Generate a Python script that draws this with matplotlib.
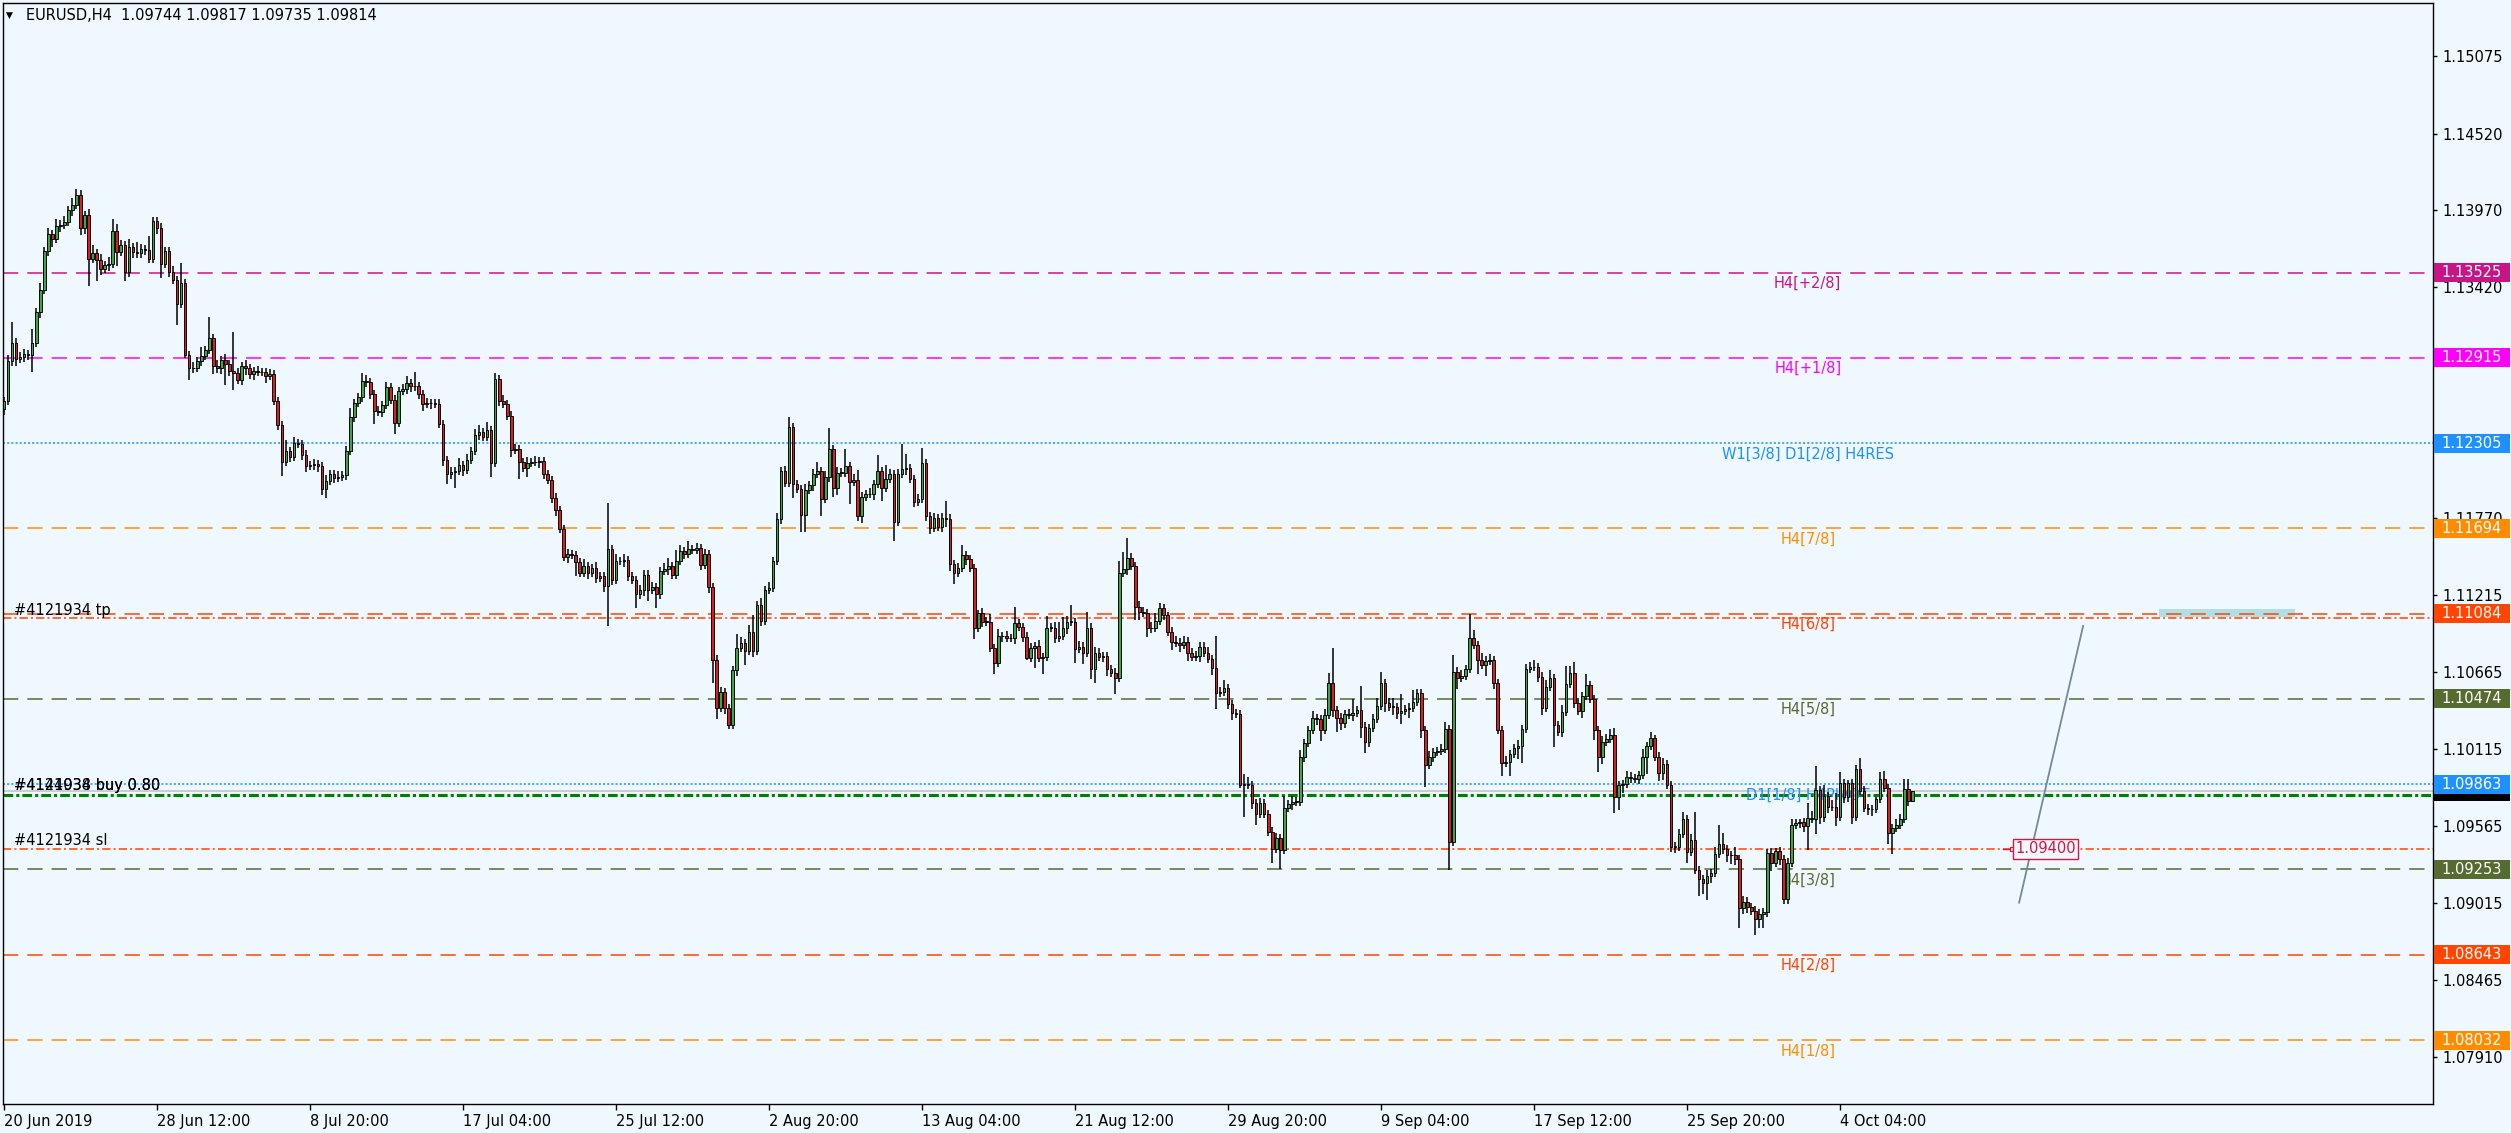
import numpy as np
import matplotlib.pyplot as plt
import matplotlib.transforms as mtransforms
from matplotlib.patches import Rectangle

plt.rcParams['font.family'] = ['DejaVu Sans']
plt.rcParams['lines.scale_dashes'] = False

# EURUSD H4 bars (open of each bar = previous close)
first_open = 1.12547
closes = [
    1.12607, 1.12894, 1.13020, 1.12909, 1.12924, 1.12939, 1.12933, 1.13020, 1.13240, 1.13400,
    1.13677, 1.13803, 1.13767, 1.13857, 1.13869, 1.13888, 1.13972, 1.14008, 1.14083, 1.13842,
    1.13939, 1.13622, 1.13662, 1.13616, 1.13550, 1.13580, 1.13586, 1.13821, 1.13671, 1.13722,
    1.13526, 1.13707, 1.13671, 1.13662, 1.13692, 1.13690, 1.13622, 1.13894, 1.13842, 1.13586,
    1.13677, 1.13532, 1.13472, 1.13300, 1.13451, 1.12933, 1.12839, 1.12845, 1.12894, 1.12930,
    1.12969, 1.13059, 1.12857, 1.12839, 1.12900, 1.12869, 1.12818, 1.12803, 1.12758, 1.12857,
    1.12839, 1.12797, 1.12818, 1.12812, 1.12815, 1.12788, 1.12797, 1.12607, 1.12436, 1.12171,
    1.12246, 1.12207, 1.12306, 1.12300, 1.12222, 1.12141, 1.12145, 1.12153, 1.12141, 1.11975,
    1.12035, 1.12080, 1.12056, 1.12065, 1.12074, 1.12246, 1.12493, 1.12592, 1.12632, 1.12749,
    1.12743, 1.12653, 1.12532, 1.12528, 1.12577, 1.12704, 1.12616, 1.12448, 1.12677, 1.12689,
    1.12737, 1.12713, 1.12710, 1.12653, 1.12586, 1.12590, 1.12592, 1.12588, 1.12442, 1.12183,
    1.12080, 1.12095, 1.12104, 1.12147, 1.12111, 1.12186, 1.12246, 1.12366, 1.12382, 1.12351,
    1.12397, 1.12165, 1.12764, 1.12607, 1.12586, 1.12502, 1.12255, 1.12261, 1.12171, 1.12125,
    1.12165, 1.12171, 1.12168, 1.12177, 1.12080, 1.12041, 1.11915, 1.11824, 1.11689, 1.11493,
    1.11508, 1.11505, 1.11454, 1.11373, 1.11424, 1.11373, 1.11412, 1.11342, 1.11351, 1.11282,
    1.11544, 1.11327, 1.11463, 1.11460, 1.11469, 1.11351, 1.11327, 1.11222, 1.11252, 1.11363,
    1.11252, 1.11273, 1.11222, 1.11388, 1.11403, 1.11424, 1.11363, 1.11463, 1.11532, 1.11514,
    1.11544, 1.11538, 1.11553, 1.11433, 1.11508, 1.11273, 1.10755, 1.10409, 1.10520, 1.10409,
    1.10288, 1.10680, 1.10839, 1.10875, 1.10815, 1.10951, 1.10815, 1.11147, 1.11032, 1.11252,
    1.11267, 1.11463, 1.11764, 1.12104, 1.12020, 1.12418, 1.12014, 1.11975, 1.11790, 1.11970,
    1.12005, 1.12082, 1.12106, 1.11903, 1.12065, 1.12261, 1.11982, 1.12094, 1.12092, 1.12141,
    1.12029, 1.12041, 1.11784, 1.11922, 1.11941, 1.11939, 1.12010, 1.12106, 1.11982, 1.12046,
    1.12082, 1.11743, 1.12082, 1.12118, 1.12125, 1.12046, 1.11886, 1.11903, 1.12161, 1.11784,
    1.11695, 1.11767, 1.11707, 1.11767, 1.11765, 1.11438, 1.11373, 1.11409, 1.11504, 1.11473,
    1.11409, 1.10984, 1.11087, 1.11027, 1.11025, 1.10836, 1.10729, 1.10925, 1.10923, 1.10908,
    1.10910, 1.11015, 1.10987, 1.10920, 1.10770, 1.10836, 1.10853, 1.10770, 1.10772, 1.10984,
    1.10982, 1.10913, 1.10925, 1.10979, 1.11027, 1.11025, 1.10829, 1.10848, 1.10805, 1.10984,
    1.10686, 1.10805, 1.10777, 1.10781, 1.10686, 1.10662, 1.10626, 1.11373, 1.11402, 1.11485,
    1.11426, 1.11135, 1.11099, 1.11087, 1.10979, 1.10981, 1.11032, 1.11123, 1.11075, 1.10956,
    1.10884, 1.10877, 1.10860, 1.10884, 1.10805, 1.10777, 1.10779, 1.10848, 1.10805, 1.10758,
    1.10693, 1.10519, 1.10526, 1.10550, 1.10438, 1.10371, 1.10366, 1.09858, 1.09865, 1.09858,
    1.09727, 1.09648, 1.09727, 1.09648, 1.09524, 1.09398, 1.09476, 1.09393, 1.09691, 1.09722,
    1.09739, 1.09737, 1.10061, 1.10156, 1.10252, 1.10335, 1.10328, 1.10252, 1.10359, 1.10586,
    1.10395, 1.10335, 1.10299, 1.10364, 1.10359, 1.10376, 1.10395, 1.10276, 1.10168, 1.10264,
    1.10328, 1.10423, 1.10586, 1.10447, 1.10419, 1.10417, 1.10371, 1.10388, 1.10400, 1.10407,
    1.10455, 1.10514, 1.10252, 1.10001, 1.10061, 1.10092, 1.10101, 1.10113, 1.10257, 1.09452,
    1.10669, 1.10626, 1.10638, 1.10686, 1.10908, 1.10860, 1.10753, 1.10717, 1.10748, 1.10753,
    1.10586, 1.10252, 1.10013, 1.10025, 1.10080, 1.10121, 1.10137, 1.10257, 1.10686, 1.10700,
    1.10702, 1.10634, 1.10407, 1.10562, 1.10622, 1.10288, 1.10240, 1.10383, 1.10581, 1.10657,
    1.10447, 1.10390, 1.10495, 1.10574, 1.10471, 1.10252, 1.10061, 1.10168, 1.10190, 1.10216,
    1.09775, 1.09858, 1.09865, 1.09917, 1.09905, 1.09903, 1.09929, 1.10056, 1.10137, 1.10197,
    1.10061, 1.09946, 1.10008, 1.09858, 1.09416, 1.09414, 1.09505, 1.09612, 1.09381, 1.09464,
    1.09249, 1.09183, 1.09154, 1.09206, 1.09226, 1.09364, 1.09433, 1.09397, 1.09357, 1.09355,
    1.09326, 1.08975, 1.09023, 1.08982, 1.08958, 1.08896, 1.08932, 1.08946, 1.09369, 1.09302,
    1.09385, 1.09326, 1.09039, 1.09297, 1.09572, 1.09583, 1.09591, 1.09564, 1.09619, 1.09617,
    1.09822, 1.09626, 1.09779, 1.09698, 1.09703, 1.09631, 1.09870, 1.09769, 1.09870, 1.09631,
    1.09970, 1.09817, 1.09691, 1.09684, 1.09686, 1.09755, 1.09899, 1.09834, 1.09517, 1.09548,
    1.09572, 1.09612, 1.09827, 1.09744, 1.09814,
]
# wick length beyond the body, in pips
upper_wick_pips = [
    3, 4, 15, 4, 3, 4, 3, 10, 3, 5, 3, 4, 3, 5, 3, 4, 3, 5, 4, 3, 3, 4, 6, 3, 4,
    3, 5, 9, 5, 4, 3, 6, 3, 7, 4, 3, 10, 3, 3, 4, 3, 3, 4, 3, 14, 3, 3, 4, 3, 6,
    3, 15, 3, 4, 3, 4, 3, 28, 4, 3, 4, 3, 3, 4, 3, 3, 4, 3, 3, 3, 8, 3, 4, 3, 3,
    3, 3, 4, 3, 3, 4, 3, 3, 4, 3, 4, 6, 3, 3, 6, 4, 3, 3, 4, 3, 4, 3, 3, 3, 4,
    5, 3, 10, 3, 3, 4, 3, 3, 3, 3, 3, 4, 3, 5, 3, 4, 3, 4, 5, 3, 6, 3, 4, 3, 4,
    3, 3, 4, 3, 3, 4, 3, 4, 3, 3, 3, 3, 3, 3, 3, 4, 3, 3, 3, 5, 3, 3, 4, 3, 3,
    33, 3, 5, 3, 4, 3, 3, 3, 4, 3, 3, 4, 3, 3, 4, 6, 3, 8, 4, 3, 6, 3, 4, 3, 4,
    3, 3, 3, 4, 3, 3, 3, 10, 4, 3, 5, 12, 3, 5, 3, 4, 3, 4, 3, 4, 7, 3, 3, 3, 4,
    3, 4, 6, 3, 4, 15, 3, 4, 3, 12, 3, 4, 7, 3, 3, 4, 3, 11, 3, 10, 4, 3, 4, 18, 10,
    3, 3, 4, 11, 3, 3, 4, 3, 4, 12, 3, 3, 4, 7, 3, 3, 3, 2, 4, 3, 6, 3, 5, 3, 4,
    3, 12, 3, 3, 3, 4, 3, 4, 3, 8, 3, 4, 10, 8, 4, 12, 3, 4, 3, 11, 3, 4, 3, 3, 3,
    3, 3, 9, 12, 14, 3, 3, 4, 3, 3, 4, 6, 4, 3, 2, 3, 4, 3, 4, 3, 3, 4, 3, 3, 4,
    3, 23, 3, 6, 3, 3, 3, 3, 7, 5, 3, 3, 4, 3, 3, 3, 4, 3, 9, 3, 4, 3, 5, 3, 3,
    5, 3, 3, 4, 7, 25, 3, 4, 3, 4, 10, 3, 17, 3, 3, 4, 6, 8, 3, 3, 6, 3, 12, 3, 4,
    8, 3, 3, 3, 4, 3, 3, 4, 5, 3, 12, 3, 4, 3, 17, 6, 3, 5, 3, 4, 3, 3, 3, 4, 3,
    3, 4, 3, 4, 4, 5, 3, 3, 5, 6, 3, 3, 5, 13, 5, 8, 3, 3, 8, 3, 3, 3, 4, 3, 4,
    5, 3, 3, 4, 3, 3, 3, 6, 3, 4, 2, 3, 4, 3, 3, 3, 4, 5, 3, 4, 20, 3, 3, 4, 3,
    5, 14, 8, 3, 3, 6, 3, 4, 3, 3, 3, 4, 3, 3, 4, 2, 3, 3, 4, 4, 3, 2, 3, 11, 5,
    17, 3, 8, 3, 5, 10, 8, 3, 2, 3, 3, 8, 3, 3, 3, 2, 5, 6, 3, 3, 4, 4, 7, 7, 0,
]
lower_wick_pips = [
    4, 3, 4, 5, 3, 4, 3, 12, 3, 4, 3, 3, 6, 3, 4, 3, 3, 4, 3, 5, 4, 19, 3, 15, 4,
    3, 4, 3, 10, 3, 6, 3, 4, 3, 3, 4, 3, 3, 4, 10, 3, 4, 3, 15, 3, 2, 8, 3, 3, 4,
    3, 3, 6, 3, 4, 15, 3, 12, 3, 4, 5, 3, 4, 3, 3, 5, 3, 3, 4, 10, 3, 4, 3, 3, 4,
    4, 3, 3, 4, 4, 6, 3, 4, 3, 3, 3, 3, 4, 3, 3, 4, 3, 9, 3, 4, 3, 3, 8, 3, 3,
    3, 4, 3, 3, 5, 3, 4, 3, 3, 4, 7, 3, 11, 3, 4, 3, 3, 3, 4, 3, 3, 10, 3, 4, 3,
    3, 5, 3, 12, 3, 6, 3, 3, 4, 3, 3, 4, 4, 3, 3, 5, 3, 10, 3, 3, 4, 3, 4, 3, 4,
    29, 4, 3, 3, 4, 3, 3, 10, 3, 4, 8, 3, 10, 3, 3, 4, 3, 3, 3, 4, 3, 3, 3, 4, 3,
    4, 17, 8, 3, 4, 3, 3, 4, 3, 10, 3, 4, 3, 4, 3, 3, 3, 3, 4, 3, 3, 10, 3, 12, 12,
    3, 4, 3, 12, 3, 4, 6, 5, 3, 3, 16, 3, 4, 5, 3, 3, 4, 3, 9, 3, 3, 14, 3, 3, 4,
    3, 4, 3, 3, 4, 4, 3, 3, 4, 6, 5, 8, 3, 3, 4, 3, 8, 3, 4, 3, 3, 8, 3, 4, 3,
    3, 4, 3, 4, 2, 3, 14, 3, 12, 3, 3, 4, 3, 3, 4, 3, 10, 3, 8, 3, 7, 10, 3, 4, 5,
    3, 12, 3, 3, 4, 3, 10, 6, 3, 6, 3, 3, 3, 4, 3, 6, 3, 5, 3, 6, 3, 3, 4, 3, 3,
    5, 12, 3, 3, 4, 5, 3, 2, 23, 3, 4, 8, 3, 3, 3, 10, 3, 14, 3, 3, 4, 3, 3, 4, 3,
    3, 4, 8, 3, 3, 5, 10, 5, 3, 3, 4, 3, 8, 8, 4, 3, 3, 3, 7, 3, 6, 4, 8, 3, 6,
    3, 3, 6, 16, 3, 4, 3, 3, 3, 20, 3, 8, 3, 3, 3, 3, 10, 3, 8, 3, 4, 3, 9, 3, 10,
    3, 8, 12, 3, 3, 3, 4, 5, 3, 3, 16, 3, 4, 3, 3, 4, 3, 5, 3, 3, 7, 11, 5, 3, 3,
    12, 10, 6, 3, 3, 3, 4, 3, 12, 3, 3, 6, 5, 3, 4, 4, 3, 3, 8, 3, 3, 12, 8, 12, 5,
    3, 3, 3, 5, 6, 4, 14, 4, 4, 3, 11, 6, 10, 3, 6, 3, 4, 3, 3, 3, 3, 3, 4, 17, 3,
    11, 5, 3, 4, 3, 7, 3, 4, 3, 5, 3, 3, 3, 4, 5, 3, 3, 3, 8, 15, 3, 3, 3, 4, 1,
]

time_tick_bars = [0, 38, 76, 114, 152, 190, 228, 266, 304, 342, 380, 418, 456]
time_tick_labels = ['20 Jun 2019', '28 Jun 12:00', '8 Jul 20:00', '17 Jul 04:00',
                    '25 Jul 12:00', '2 Aug 20:00', '13 Aug 04:00', '21 Aug 12:00',
                    '29 Aug 20:00', '9 Sep 04:00', '17 Sep 12:00', '25 Sep 20:00',
                    '4 Oct 04:00']
# 1.12870 sits fully under the 1.12915 label in the screenshot, so it has no text
price_ticks = [1.15075, 1.14520, 1.13970, 1.13420, 1.12870, 1.12320, 1.11770,
               1.11215, 1.10665, 1.10115, 1.09565, 1.09015, 1.08465, 1.07910]
hidden_ticks = [1.12870]

level_names = ['H4[+2/8]', 'H4[+1/8]', 'W1[3/8] D1[2/8] H4RES', 'H4[7/8]', 'H4[6/8]',
               'H4[5/8]', 'D1[1/8] H4PIVOT', 'H4[3/8]', 'H4[2/8]', 'H4[1/8]']
level_prices = [1.13525, 1.12915, 1.12305, 1.11694, 1.11084,
                1.10474, 1.09863, 1.09253, 1.08643, 1.08032]
level_colors = ['#C71585', '#FF00FF', '#1E90FF', '#FF8C00', '#FF4500',
                '#556B2F', '#1E90FF', '#556B2F', '#FF4500', '#FF8C00']
level_kinds = ['dash', 'dash', 'dot', 'dash', 'dash', 'dash', 'dot', 'dash', 'dash', 'dash']

bid_price = 1.09814
entry_price = 1.09788
tp_price = 1.11052
sl_price = 1.09400
trend_bars = [500.5, 516.4]
trend_prices = [1.09015, 1.10996]
zone_bars = [535.3, 569.1]
zone_prices = [1.11063, 1.11118]

BG = '#F0F8FF'
FS = 10.5
PIP = 0.0001

closes = np.array(closes)
opens = np.concatenate([[first_open], closes[:-1]])
highs = np.maximum(opens, closes) + np.array(upper_wick_pips) * PIP
lows = np.minimum(opens, closes) - np.array(lower_wick_pips) * PIP
bars = np.arange(len(closes))

fig = plt.figure(figsize=(25.11, 11.33), dpi=100, facecolor=BG)
ax = fig.add_axes([3 / 2511, 1 - 1104 / 1133, 2430 / 2511, 1101 / 1133])
ax.set_facecolor(BG)
ax.set_xlim(-0.25, 603.3)
ax.set_ylim(1.07574, 1.15455)
trans = mtransforms.blended_transform_factory(ax.transAxes, ax.transData)

styles = {
    'dash': (0, (11, 6.5)),
    'dot': (0, (1.5, 1.5)),
    'dashdot': (0, (6, 2.2, 1.5, 2.2)),
}

# murrey levels
for name, p, col, kind in zip(level_names, level_prices, level_colors, level_kinds):
    ax.axhline(p, color=col, lw=1.1, ls=styles[kind], zorder=1.5)
    ax.annotate(name, (448, p), xytext=(0, -7.8), textcoords='offset points',
                ha='center', va='center', color=col, fontsize=FS, zorder=2)

# order lines
ax.axhline(bid_price, color='#C0C0C0', lw=1.1, zorder=1.5)
ax.axhline(entry_price, color='#008000', lw=2.2, ls=(0, (7, 2.2, 2.2, 2.2)), zorder=1.6)
ax.axhline(tp_price, color='#FF4500', lw=1.1, ls=styles['dashdot'], zorder=1.5)
ax.axhline(sl_price, color='#FF4500', lw=1.1, ls=styles['dashdot'], zorder=1.5)

for txt in ['#4121934 buy 0.80', '#4144038 buy 0.80']:
    ax.annotate(txt, (2.5, entry_price), xytext=(0, 3.5), textcoords='offset points',
                ha='left', va='baseline', fontsize=FS, color='black', zorder=2)
ax.annotate('#4121934 tp', (2.5, tp_price), xytext=(0, 2.5), textcoords='offset points',
            ha='left', va='baseline', fontsize=FS, color='black', zorder=2)
ax.annotate('#4121934 sl', (2.5, sl_price), xytext=(0, 2.5), textcoords='offset points',
            ha='left', va='baseline', fontsize=FS, color='black', zorder=2)

# drawn objects
ax.add_patch(Rectangle((zone_bars[0], zone_prices[0]), zone_bars[1] - zone_bars[0],
                       zone_prices[1] - zone_prices[0], fc='#B0E0E6', ec='none', zorder=1.2))
ax.plot(trend_bars, trend_prices, color='#778899', lw=1.3, zorder=2)
ax.plot([496.6, 498.8], [sl_price, sl_price], color='#DC143C', lw=1, zorder=2)
ax.plot([498.8], [sl_price], marker='s', ms=2.6, mfc=BG, mec='#DC143C', mew=0.8, zorder=2.1)
ax.text(499.6, sl_price, '1.09400', ha='left', va='center', color='#DC143C', fontsize=FS,
        zorder=2.2, bbox=dict(boxstyle='square,pad=0.15', fc=BG, ec='#DC143C', lw=1))

# candles
up = closes >= opens
body_lo = np.minimum(opens, closes)
body_h = np.maximum(np.abs(closes - opens), 0.00004)
ax.vlines(bars, lows, highs, color='black', lw=1.1, zorder=3)
ax.bar(bars, body_h, bottom=body_lo, width=0.64,
       color=np.where(up, '#3FA347', '#D42020'), edgecolor='black', linewidth=0.65, zorder=4)

# price axis
ax.yaxis.tick_right()
ax.set_yticks(price_ticks)
ax.set_yticklabels(['' if t in hidden_ticks else f'{t:.5f}' for t in price_ticks])
ax.tick_params(axis='y', direction='out', length=3, width=1, pad=4, labelsize=FS, colors='black')
ax.set_xticks(time_tick_bars)
ax.set_xticklabels(time_tick_labels)
for lab in ax.get_xticklabels():
    lab.set_ha('left')
ax.tick_params(axis='x', direction='out', length=4, width=1, pad=3, labelsize=FS)
for sp in ax.spines.values():
    sp.set_color('black')
    sp.set_linewidth(1)

box_h = 19 / 13970


def price_box(p, col, show_text=True):
    ax.add_patch(Rectangle((1.0005, p - box_h / 2), 0.031, box_h, transform=trans,
                           fc=col, ec='none', clip_on=False, zorder=6))
    if show_text:
        ax.text(1.0035, p, f'{p:.5f}', transform=trans, ha='left', va='center',
                color='white', fontsize=FS, clip_on=False, zorder=7)


# bid label is almost fully covered by the pivot label, only its black edge shows
price_box(bid_price, 'black', show_text=False)
for p, col in zip(level_prices, level_colors):
    price_box(p, col)

# header
fig.text(6 / 2511, 1 - 15 / 1133, '\u25bc', fontsize=6.5, va='center', ha='left')
fig.text(26 / 2511, 1 - 15 / 1133, 'EURUSD,H4  1.09744 1.09817 1.09735 1.09814',
         fontsize=FS, va='center', ha='left')

fig.savefig('out.png', dpi=100, facecolor=BG)
